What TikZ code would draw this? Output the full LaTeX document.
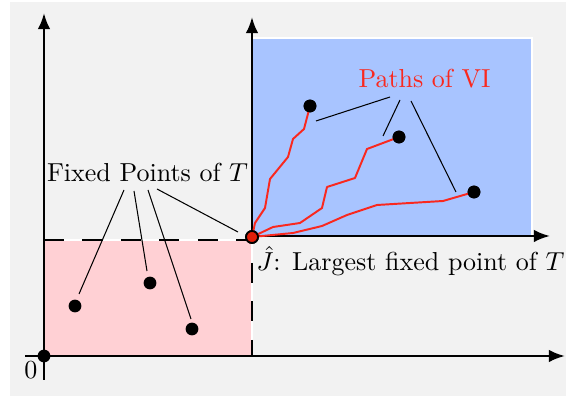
\documentclass[tikz,border=0pt]{standalone}
\usetikzlibrary{arrows.meta}
\definecolor{bggray}{RGB}{242,242,242}
\definecolor{bluefill}{RGB}{168,196,255}
\definecolor{pinkfill}{RGB}{255,208,212}
\definecolor{pathred}{RGB}{250,40,30}
\definecolor{dotred}{RGB}{225,30,10}
\tikzset{
  axis/.style={line width=0.9pt,-{Latex[length=6.2pt,width=4.8pt]}},
  dashline/.style={line width=0.9pt,dash pattern=on 7.7pt off 7.1pt},
  leader/.style={line width=0.4pt},
  vipath/.style={pathred,line width=0.75pt,line join=round},
  dot/.style={circle,fill=black,inner sep=0pt,minimum size=4.9pt},
  reddot/.style={circle,fill=dotred,draw=black,line width=0.7pt,inner sep=0pt,minimum size=4.6pt},
}
\begin{document}
\begin{tikzpicture}[x=0.3846pt,y=-0.3846pt]
\useasboundingbox (0,0) rectangle (566,396);
\fill[white] (0,0) rectangle (566,396);
\fill[bggray] (10,2) rectangle (566,396);
% regions
\draw[white,line width=0.8pt,fill=bluefill] (252,38) rectangle (532,236);
\draw[white,line width=0.8pt,fill=pinkfill] (44,240) rectangle (252,356);
\draw[dashline] (44,240) -- (252,240) -- (252,356);
% axes
\draw[axis] (44,380) -- (44,13);
\draw[axis] (25,356) -- (565,356);
\draw[axis] (252,237) -- (252,17);
\draw[axis] (252,236) -- (550,236);
% nodes
\node[reddot] (J) at (252,237) {};
\node[dot] (o) at (44,356) {};
\node[dot] (q1) at (75,306) {};
\node[dot] (q2) at (150,283) {};
\node[dot] (q3) at (192,329) {};
\node[dot] (b1) at (310,106) {};
\node[dot] (b2) at (399,137) {};
\node[dot] (b3) at (474,192) {};
% VI paths
\draw[vipath] (J.center) -- (255,223) -- (265,208) -- (270,179) -- (288,157) -- (293,139) -- (304,129) -- (b1.center);
\draw[vipath] (J.center) -- (273,227) -- (300,223) -- (322,208) -- (327,187) -- (355,178) -- (367,149) -- (b2.center);
\draw[vipath] (J.center) -- (293,233) -- (322,226) -- (347,215) -- (377,205) -- (443,201) -- (b3.center);
% redraw dots on top
\node[reddot] at (J) {};
\node[dot] at (b1) {};
\node[dot] at (b2) {};
\node[dot] at (b3) {};
% labels
\node[anchor=base,inner sep=0pt] (fp) at (147.5,182) {Fixed Points of $T$};
\node[anchor=base,inner sep=0pt,text=pathred] (vi) at (424.5,88) {Paths of VI};
\node[anchor=base west,inner sep=0pt] (jl) at (256,271) {$\hat{J}$: Largest fixed point of $T$};
\node[anchor=base,inner sep=0pt] (zero) at (31,379) {0};
% leader coordinates
\coordinate (f1s) at (124,190); \coordinate (f1e) at (79,294);
\coordinate (f2s) at (134,191); \coordinate (f2e) at (147,271);
\coordinate (f3s) at (148,190); \coordinate (f3e) at (191,319);
\coordinate (f4s) at (157,189); \coordinate (f4e) at (238,232);
\coordinate (v1s) at (390,97); \coordinate (v1e) at (316,121);
\coordinate (v2s) at (400,100); \coordinate (v2e) at (383,136);
\coordinate (v3s) at (411,101); \coordinate (v3e) at (456,192);
\draw[leader] (f1s) -- (f1e);
\draw[leader] (f2s) -- (f2e);
\draw[leader] (f3s) -- (f3e);
\draw[leader] (f4s) -- (f4e);
\draw[leader] (v1s) -- (v1e);
\draw[leader] (v2s) -- (v2e);
\draw[leader] (v3s) -- (v3e);
\end{tikzpicture}
\end{document}
